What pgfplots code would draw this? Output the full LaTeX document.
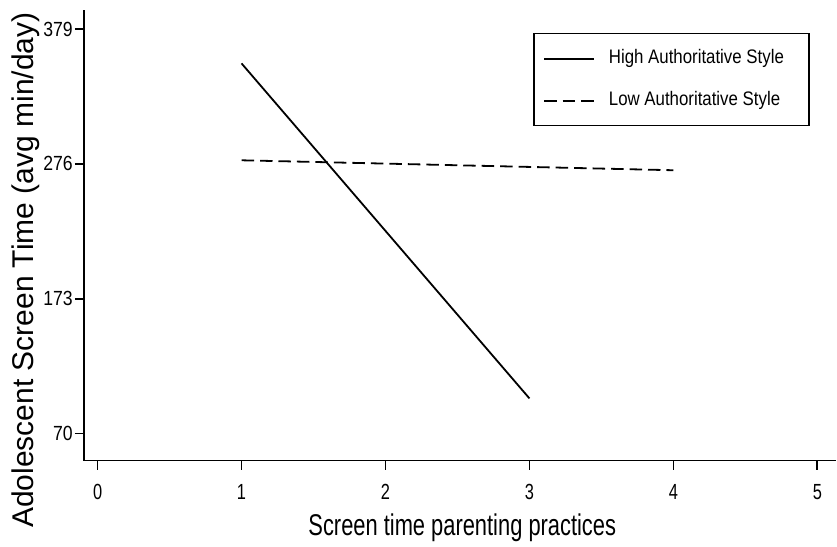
\documentclass[border=0pt]{standalone}
\usepackage{pgfplots}
\pgfplotsset{compat=1.18}
\usepackage{fontspec}
\setmainfont{Liberation Sans}
\newfontfamily\xtfont[FakeStretch=0.75]{Liberation Sans}
\newfontfamily\ytfont[FakeStretch=0.86]{Liberation Sans}
\newfontfamily\xlfont[FakeStretch=0.73]{Liberation Sans}
\begin{document}
\begin{tikzpicture}
\begin{axis}[name=ax, scale only axis, width=753pt, height=451pt,
  xmin=-0.095, xmax=5.13, ymin=49.4, ymax=393.5,
  axis x line=bottom, axis y line=left,
  axis line style={-, line width=1.8pt, black},
  xtick={0,1,2,3,4,5}, ytick={70,173,276,379},
  minor tick num=0,
  /pgf/number format/assume math mode=true,
  tick align=outside, major tick length=9pt,
  tick style={line width=1.8pt, black},
  x tick label style={font=\xtfont\fontsize{21.9}{22}\selectfont, anchor=base, yshift=-30pt},
  y tick label style={font=\ytfont\fontsize{20.5}{21}\selectfont, anchor=east, inner sep=0pt, xshift=-2pt},
  xlabel={Screen time parenting practices},
  ylabel={Adolescent Screen Time (avg min/day)},
  xlabel style={font=\xlfont\fontsize{30}{32}\selectfont, at={(axis description cs:0.503,-0.1674)}, anchor=base},
  ylabel style={font=\fontsize{30}{32}\selectfont, at={(axis description cs:-0.0664,0.4224)}, anchor=base},
  legend style={at={(0.5976,0.949)}, anchor=north west, draw=black, line width=1.5pt,
    inner xsep=9pt, inner ysep=16pt,
    font=\ytfont\fontsize{19.6}{20}\selectfont, row sep=24pt,
    nodes={inner sep=0pt, text height=14pt, text depth=4pt},
    /tikz/every odd column/.append style={column sep=14pt}},
  legend cell align=left,
  legend image code/.code={\draw[#1] (0pt,0pt) -- (50pt,0pt);},
]
\addplot[black, line width=1.8pt] coordinates {(1,352.7) (3,96.8)};
\addlegendentry{High Authoritative Style\hspace*{16pt}}
\addplot[black, line width=1.8pt, dash pattern=on 12.5pt off 6pt] coordinates {(1,278.7) (4,271.1)};
\addlegendentry{Low Authoritative Style}
\end{axis}
\path (ax.south west) ++(-84pt,-86pt) rectangle ([yshift=10pt]ax.north east);
\end{tikzpicture}
\end{document}
